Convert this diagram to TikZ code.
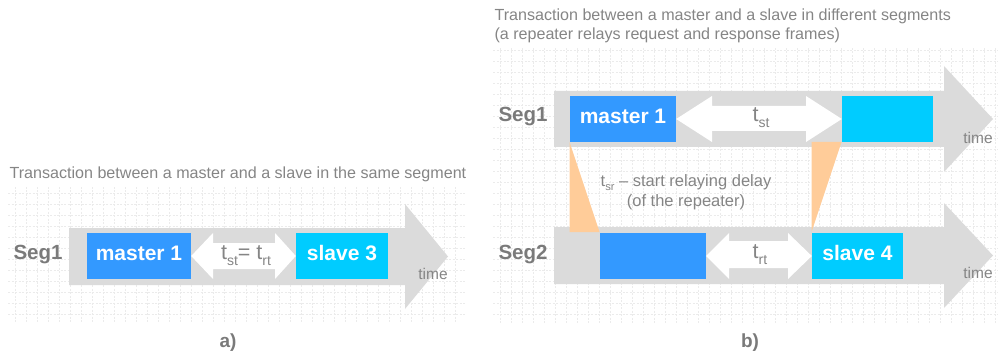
\documentclass[tikz,border=0pt]{standalone}
\usepackage{fontspec}
\setmainfont{Liberation Sans}
\definecolor{bandgray}{HTML}{DBDBDB}
\definecolor{gridgray}{HTML}{EBEBEB}
\definecolor{txtgray}{HTML}{858585}
\definecolor{seggray}{HTML}{7A7A7A}
\definecolor{frameblue}{HTML}{3399FF}
\definecolor{framecyan}{HTML}{00CCFF}
\definecolor{delayorange}{HTML}{FFCC99}
\newcommand\fsz[1]{\fontsize{#1}{#1}\selectfont}
\newcommand\lowsub[1]{\raisebox{-0.28em}{\fsz{14}#1}}
\newcommand\lowsubs[1]{\raisebox{-0.25em}{\fsz{11}#1}}
\tikzset{
  gridline/.style={gridgray, line width=0.7pt, dash pattern=on 2pt off 1.5pt},
  band/.style={fill=bandgray, draw=none},
  frame/.style={draw=none, minimum height=46pt, inner sep=0pt, text height=15pt, text depth=6pt,
    text=white, font=\fsz{21}\bfseries},
  gap/.style={fill=white, draw=none},
  delay/.style={fill=delayorange, draw=none},
  seglabel/.style={text=seggray, font=\fsz{20.5}\bfseries},
  timelabel/.style={text=txtgray, font=\fsz{15.5}},
  tlabel/.style={text=txtgray, font=\fsz{21.5}},
  caption/.style={text=txtgray, font=\fsz{16.1}, anchor=west},
  panel/.style={text=seggray, font=\fsz{19}\bfseries}
}
\begin{document}
\begin{tikzpicture}[x=1pt,y=-1pt]
\useasboundingbox (0,0) rectangle (998,358);

% background grids
\foreach \i in {0,...,40} \draw[gridline] (15+11*\i,187) -- (15+11*\i,323);
\foreach \j in {0,...,11} \draw[gridline] (8,193+11*\j) -- (465,193+11*\j);
\foreach \i in {0,...,45} \draw[gridline] (500+11*\i,48) -- (500+11*\i,323);
\foreach \j in {0,...,24} \draw[gridline] (493,50.7+11*\j) -- (998,50.7+11*\j);

% time axes (wide grey arrows)
\fill[band] (69,228) -- (405,228) -- (405,204) -- (448,256.5) -- (405,309) -- (405,285) -- (69,285) -- cycle;
\fill[band] (554,91) -- (944,91) -- (944,66) -- (993,119) -- (944,172) -- (944,147) -- (554,147) -- cycle;
\fill[band] (554,227) -- (944,227) -- (944,203) -- (993,255.5) -- (944,308) -- (944,284) -- (554,284) -- cycle;

% repeater delay wedges
\fill[delay] (569.5,142) -- (569.5,232) -- (599.5,232) -- cycle;
\fill[delay] (811.5,142) -- (841.5,142) -- (811.5,232) -- cycle;

% frames
\node[frame, fill=frameblue, minimum width=104pt] (ma) at (139,256) {master 1};
\node[frame, fill=framecyan, minimum width=92pt] (sa) at (342,256) {slave 3};
\node[frame, fill=frameblue, minimum width=106pt] (mb) at (623,119) {master 1};
\node[frame, fill=framecyan, minimum width=91pt] (rb) at (887.5,119) {};
\node[frame, fill=frameblue, minimum width=106pt] (rc) at (653,256) {};
\node[frame, fill=framecyan, minimum width=91pt] (sb) at (857.5,256) {slave 4};

% white interval arrows
\fill[gap] (ma.east) -- (213,233) -- (213,243) -- (275,243) -- (275,233) -- (sa.west) -- (275,279) -- (275,269) -- (213,269) -- (213,279) -- cycle;
\fill[gap] (mb.east) -- (712,96) -- (712,106) -- (806,106) -- (806,96) -- (rb.west) -- (806,142) -- (806,131) -- (712,131) -- (712,142) -- cycle;
\fill[gap] (rc.east) -- (729,233) -- (729,241) -- (788,241) -- (788,233) -- (sb.west) -- (788,279) -- (788,268) -- (729,268) -- (729,279) -- cycle;

% labels
\node[tlabel] (ta) at (246,256) {t\lowsub{st}= t\lowsub{rt}};
\node[tlabel] (tb) at (761,118) {t\lowsub{st}};
\node[tlabel] (tc) at (760,255) {t\lowsub{rt}};

\node[seglabel] (s1a) at (38,255) {Seg1};
\node[seglabel] (s1b) at (523,117) {Seg1};
\node[seglabel] (s2b) at (523,255) {Seg2};

\node[timelabel] (tma) at (433,274) {time};
\node[timelabel] (tmb) at (978,138) {time};
\node[timelabel] (tmc) at (978,273) {time};

\node[text=txtgray, font=\fsz{16.5}, align=center] (dl) at (686,192)
  {t\lowsubs{sr} -- start relaying delay\\[4pt](of the repeater)};

\node[caption] (ca) at (6,174) {Transaction between a master and a slave in the same segment};
\node[caption, align=left] (cb) at (491,26)
  {Transaction between a master and a slave in different segments\\[3pt](a repeater relays request and response frames)};

\node[panel] (pa) at (228,343) {a)};
\node[panel] (pb) at (750,343) {b)};
\end{tikzpicture}
\end{document}
